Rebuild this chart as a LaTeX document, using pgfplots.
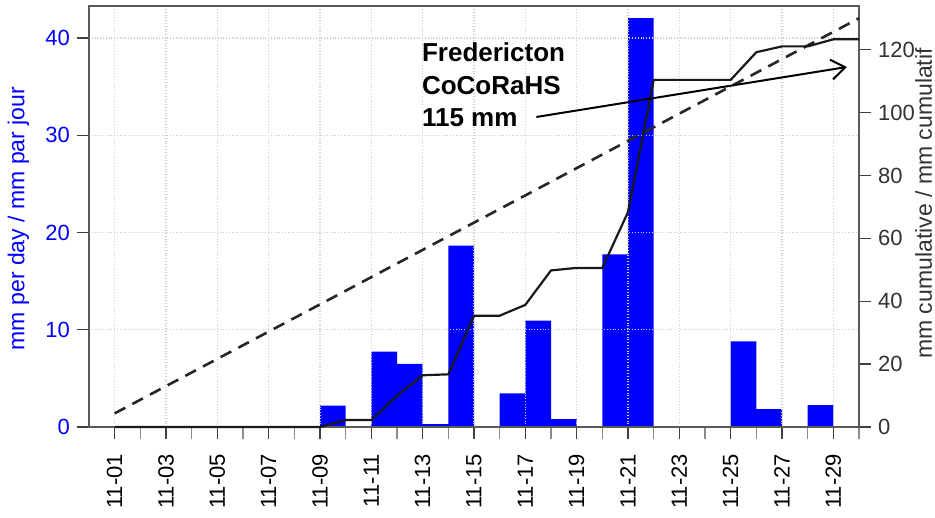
\documentclass[border=0pt]{standalone}
\usepackage{fontspec}
\setmainfont{Liberation Sans}
\usepackage{pgfplots}
\pgfplotsset{compat=1.18}
\usetikzlibrary{arrows.meta}
\definecolor{rblue}{RGB}{0,0,255}
\begin{document}
\begin{tikzpicture}
\pgfplotsset{
 base/.style={
  scale only axis, width=385pt, height=210.5pt,
  at={(0,0)}, anchor=south west,
  xmin=0, xmax=30, ymin=0,
  tick align=outside,
  /pgf/number format/assume math mode=true,
  ticklabel style={font=\fontsize{11}{13}\selectfont},
  label style={font=\fontsize{11.5}{14}\selectfont},
  major tick length=6pt, minor tick length=6pt,
  major tick style={black!75, line width=0.7pt},
  minor tick style={black!45, line width=0.7pt},
 }
}
\begin{axis}[base, ymax=43.3,
  axis on top,
  axis line style={black!65, line width=0.7pt},
  xtick={1,3,...,29},
  xticklabels={11-01,11-03,11-05,11-07,11-09,11-11,11-13,11-15,11-17,11-19,11-21,11-23,11-25,11-27,11-29},
  minor xtick={2,4,...,30},
  xtick pos=bottom, ytick pos=left,
  ytick={0,10,20,30,40},
  xticklabel style={rotate=90, anchor=east},
  xticklabel shift=4pt,
  yticklabel style={text=rblue},
  xmajorgrids, ymajorgrids,
  grid style={densely dotted, black!20, line width=0.6pt},
  ylabel={mm per day / mm par jour},
  ylabel style={text=rblue, at={(axis description cs:-0.0916,0.495)}, anchor=center},
]
\addplot[ybar, bar width=1, fill=rblue, draw=none, bar shift=0pt] coordinates {
(9.5,2.2) (11.5,7.75) (12.5,6.5) (13.5,0.3) (14.5,18.65) (16.5,3.45) (17.5,10.95)
(18.5,0.8) (20.5,17.75) (21.5,42.05) (25.5,8.8) (26.5,1.85) (28.5,2.25)
};
\end{axis}
\begin{axis}[base, ymax=133.9,
  axis y line*=right, axis x line=none,
  axis line style={black!65, line width=0.7pt},
  ytick={0,20,...,120}, ytick pos=right,
  yticklabel style={text=black!80},
  ylabel={mm cumulative / mm cumulatif},
  ylabel style={text=black!80, at={(axis description cs:1.084,0.531)}, anchor=center},
  clip=false,
]
\addplot[black!85, line width=1.3pt, dash pattern=on 6pt off 4pt] coordinates {(1,4.33) (30,130)};
\addplot[black!90, line width=1.1pt, sharp plot] coordinates {
(1,0) (2,0) (3,0) (4,0) (5,0) (6,0) (7,0) (8,0) (9,0) (10,2.2) (11,2.2)
(12,9.95) (13,16.45) (14,16.75) (15,35.4) (16,35.4) (17,38.85) (18,49.8)
(19,50.6) (20,50.6) (21,68.35) (22,110.4) (23,110.4) (24,110.4) (25,110.4)
(26,119.2) (27,121.05) (28,121.05) (29,123.3) (30,123.3)
};
\draw[black, line width=1pt, -{Straight Barb[length=7pt,width=10pt]}] (axis cs:17.43,98.6) -- (axis cs:29.53,114.5);
\node[anchor=base west, inner sep=0pt, font=\bfseries\fontsize{13}{15}\selectfont] at (axis cs:12.96,116.1) {Fredericton};
\node[anchor=base west, inner sep=0pt, font=\bfseries\fontsize{13}{15}\selectfont] at (axis cs:12.96,105.9) {CoCoRaHS};
\node[anchor=base west, inner sep=0pt, font=\bfseries\fontsize{13}{15}\selectfont] at (axis cs:12.96,95.7) {115 mm};
\end{axis}
\pgfresetboundingbox
\path[use as bounding box] (-44.5pt,-45.5pt) rectangle (423pt,213.5pt);
\end{tikzpicture}
\end{document}
